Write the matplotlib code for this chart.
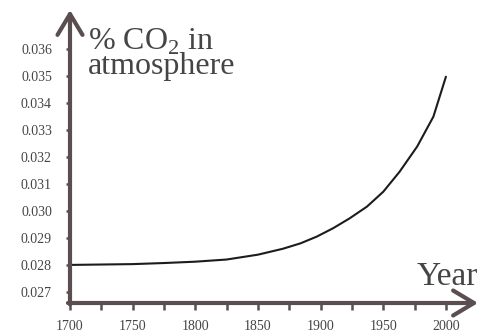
import numpy as np
import matplotlib
matplotlib.use('Agg')
import matplotlib.pyplot as plt

plt.rcParams['font.family'] = ['Liberation Serif', 'DejaVu Serif']
plt.rcParams['mathtext.fontset'] = 'custom'
plt.rcParams['mathtext.rm'] = 'Liberation Serif'

# values
years = [1700, 1750, 1775, 1800, 1825, 1850, 1870, 1884, 1897, 1910, 1923,
         1937, 1950, 1963, 1977, 1990, 2000]
co2 = [0.02800, 0.02803, 0.02807, 0.02812, 0.02820, 0.02838, 0.02860, 0.02880,
       0.02905, 0.02936, 0.02972, 0.03016, 0.03071, 0.03145, 0.03238, 0.03349,
       0.03497]

x_major = [1700, 1750, 1800, 1850, 1900, 1950, 2000]
x_minor = [1725, 1775, 1825, 1875, 1925, 1975]
y_ticks = [0.027, 0.028, 0.029, 0.030, 0.031, 0.032, 0.033, 0.034, 0.035, 0.036]
y_labels = ['%.3f' % v for v in y_ticks]

axis_col = '#5a4e51'
text_col = '#454545'

fig = plt.figure(figsize=(4.82, 3.33), dpi=100)
ax = fig.add_axes([70 / 482, 30 / 333, 408 / 482, 293 / 333])

ax.plot(years, co2, color='#1c1c1c', lw=1.5, solid_capstyle='round')

ax.set_xlim(1700, 2025.6)
ax.set_ylim(0.02659, 0.03744)

for s in ax.spines.values():
    s.set_visible(False)

ax.set_xticks(x_major)
ax.set_xticks(x_minor, minor=True)
ax.set_yticks(y_ticks)
ax.set_yticklabels(y_labels)
ax.tick_params(axis='x', which='both', direction='out', length=5, width=1.8,
               color=axis_col, pad=7, labelsize=10, labelcolor=text_col)
ax.tick_params(axis='y', direction='out', length=3, width=1.8,
               color=axis_col, pad=10, labelsize=10, labelcolor=text_col)

# axis arrows
arrow = dict(arrowstyle='->,head_length=0.75,head_width=0.45', lw=3,
             color=axis_col, shrinkA=0, shrinkB=0, mutation_scale=20)
ax.annotate('', xy=(1, 0), xytext=(-0.005, 0), xycoords='axes fraction',
            arrowprops=arrow, annotation_clip=False)
ax.annotate('', xy=(0, 1), xytext=(0, -0.005), xycoords='axes fraction',
            arrowprops=arrow, annotation_clip=False)

fig.text(88 / 482, 1 - 74 / 333, '% CO$_2$ in\natmosphere', fontsize=23,
         color=text_col, ha='left', va='baseline', linespacing=0.78)
fig.text(417 / 482, 1 - 285 / 333, 'Year', fontsize=24, color=text_col,
         ha='left', va='baseline')

fig.savefig('out.png', dpi=100)
